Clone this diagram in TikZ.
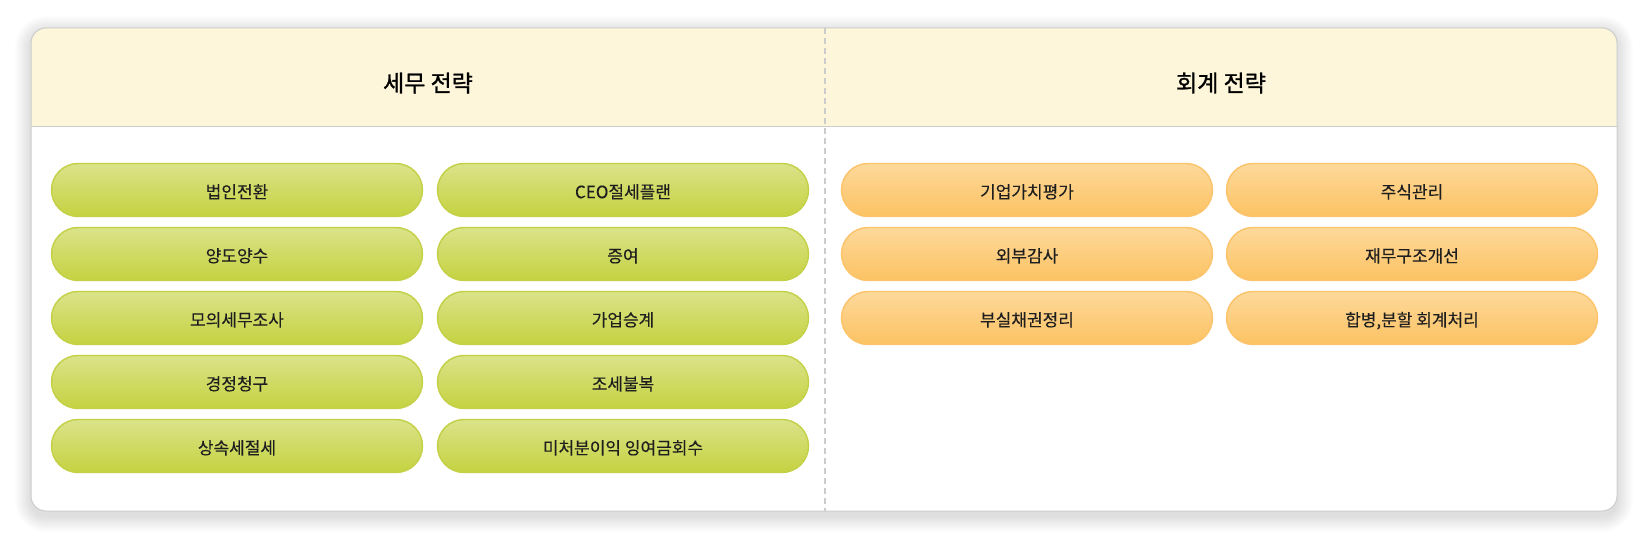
\documentclass[tikz,border=0pt]{standalone}
\usepackage{fontspec}
\setmainfont{Noto Sans CJK KR}
\newfontfamily\krfont[FakeBold=0.2]{Noto Sans CJK KR}
\newfontfamily\krtitle[FakeBold=1.2]{Noto Sans CJK KR}
\definecolor{cardline}{HTML}{CCCCCC}
\definecolor{headfill}{HTML}{FDF6DA}
\definecolor{gtop}{HTML}{DAE389}
\definecolor{gbot}{HTML}{C5D240}
\definecolor{gline}{HTML}{C3D046}
\definecolor{otop}{HTML}{FDD99B}
\definecolor{obot}{HTML}{FCC262}
\definecolor{oline}{HTML}{FBC36A}
\definecolor{txt}{HTML}{1E1E1E}
\tikzset{
  pill/.style={rounded corners=26.5pt, minimum width=371pt, minimum height=53pt,
    line width=1.4pt, inner sep=0pt, text=txt, text height=16.4pt, text depth=0pt,
    font=\krfont\fontsize{17}{20}\selectfont},
  greenpill/.style={pill, draw=gline, top color=gtop, bottom color=gbot},
  orangepill/.style={pill, draw=oline, top color=otop, bottom color=obot},
  headtitle/.style={font=\krtitle\fontsize{23}{26}\selectfont, text=black, inner sep=0pt}
}
\begin{document}
\begin{tikzpicture}[x=1pt,y=-1pt]
\useasboundingbox (0,0) rectangle (1648,545);
\fill[white] (0,0) rectangle (1648,545);
% soft shadow
\foreach \i in {1,...,16}{
  \fill[black, opacity=0.008, rounded corners=15pt+\i pt]
    (31-\i,28-\i+4) rectangle (1617+\i,511+\i+5);
}
% card
\fill[white, rounded corners=15pt] (31,28) rectangle (1617,511);
\begin{scope}
  \clip[rounded corners=15pt] (31,28) rectangle (1617,511);
  \fill[headfill] (31,28) rectangle (1617,127);
\end{scope}
\draw[cardline, line width=1pt] (31,127) -- (1617,127);
\coordinate (divtop) at (825,28);
\coordinate (divbot) at (825,511);
\draw[cardline, line width=1.2pt, dash pattern=on 6pt off 4pt] (divtop) -- (divbot);
\draw[cardline, line width=1pt, rounded corners=15pt] (31,28) rectangle (1617,511);
% titles
\node[headtitle] (t1) at (428,83) {세무 전략};
\node[headtitle] (t2) at (1221,83) {회계 전략};
% green pills
\node[greenpill] (g11) at (237,190) {법인전환};
\node[greenpill] (g21) at (237,254) {양도양수};
\node[greenpill] (g31) at (237,318) {모의세무조사};
\node[greenpill] (g41) at (237,382) {경정청구};
\node[greenpill] (g51) at (237,446) {상속세절세};
\node[greenpill] (g12) at (623,190) {CEO절세플랜};
\node[greenpill] (g22) at (623,254) {증여};
\node[greenpill] (g32) at (623,318) {가업승계};
\node[greenpill] (g42) at (623,382) {조세불복};
\node[greenpill] (g52) at (623,446) {미처분이익 잉여금회수};
% orange pills
\node[orangepill] (o11) at (1027,190) {기업가치평가};
\node[orangepill] (o21) at (1027,254) {외부감사};
\node[orangepill] (o31) at (1027,318) {부실채권정리};
\node[orangepill] (o12) at (1412,190) {주식관리};
\node[orangepill] (o22) at (1412,254) {재무구조개선};
\node[orangepill] (o32) at (1412,318) {합병,분할 회계처리};
\end{tikzpicture}
\end{document}
